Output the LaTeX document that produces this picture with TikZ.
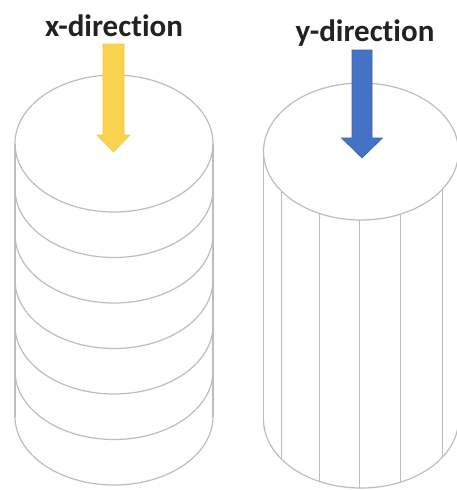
\documentclass[tikz,border=0pt]{standalone}
\usepackage{fontspec}
\setmainfont{Carlito}[Ligatures=NoCommon]
\definecolor{rimgray}{HTML}{BDBDBD}
\definecolor{labelink}{HTML}{222222}
\definecolor{goldarrow}{HTML}{F9D24E}
\definecolor{goldedge}{HTML}{F2C744}
\definecolor{bluearrow}{HTML}{4472C4}
\definecolor{blueedge}{HTML}{3A62B0}
\begin{document}
\begin{tikzpicture}[x=1pt,y=-1pt,
  rim/.style={draw=rimgray, line width=1.2pt},
  dirlabel/.style={anchor=base, inner sep=0pt, text=labelink,
    font=\bfseries\fontsize{31}{33}\selectfont},
  pusharrow/.style={line width=0.6pt, line join=miter}]
\fill[white] (0,0) rectangle (457,490);
\useasboundingbox (0,0) rectangle (457,490);

% ---- stacked discs (left) ----
\def\lcx{114}\def\lrx{99}\def\ry{68.5}
\draw[rim] (\lcx,143.5) ellipse [x radius=\lrx, y radius=\ry];
\draw[rim] (15,143.5) -- (15,416.5);
\draw[rim] (213,143.5) -- (213,416.5);
\foreach \k in {1,...,6}{
  \pgfmathsetmacro\cy{143.5+45.5*\k}
  \draw[rim] (15,\cy) arc [start angle=180, end angle=0, x radius=\lrx, y radius=\ry];
}

% ---- fibre cylinder (right) ----
\def\rcx{361}\def\rrx{97.5}
\draw[rim] (\rcx,151.5) ellipse [x radius=\rrx, y radius=\ry];
\draw[rim] (263.5,151.5) -- (263.5,419.5);
\draw[rim] (458.5,151.5) -- (458.5,419.5);
\draw[rim] (263.5,419.5) arc [start angle=180, end angle=0, x radius=\rrx, y radius=\ry];
\foreach \vx in {281.7,319.3,359.3,400.7,442.3}{
  \pgfmathsetmacro\h{\ry*sqrt(1-((\vx-\rcx)/\rrx)^2)}
  \draw[rim] (\vx,{151.5+\h}) -- (\vx,{419.5+\h});
}

% ---- load arrows ----
\draw[pusharrow, fill=goldarrow, draw=goldedge]
  (103,44) -- (124,44) -- (124,135) -- (130,135) -- (113.5,152)
  -- (97,135) -- (103,135) -- cycle;
\draw[pusharrow, fill=bluearrow, draw=blueedge]
  (352,50) -- (372,50) -- (372,138) -- (382.5,138) -- (362,158)
  -- (341.5,138) -- (352,138) -- cycle;

% ---- labels ----
\node[dirlabel] (xlabel) at (114,36) {x-direction};
\node[dirlabel] (ylabel) at (365,41) {y-direction};
\end{tikzpicture}
\end{document}
